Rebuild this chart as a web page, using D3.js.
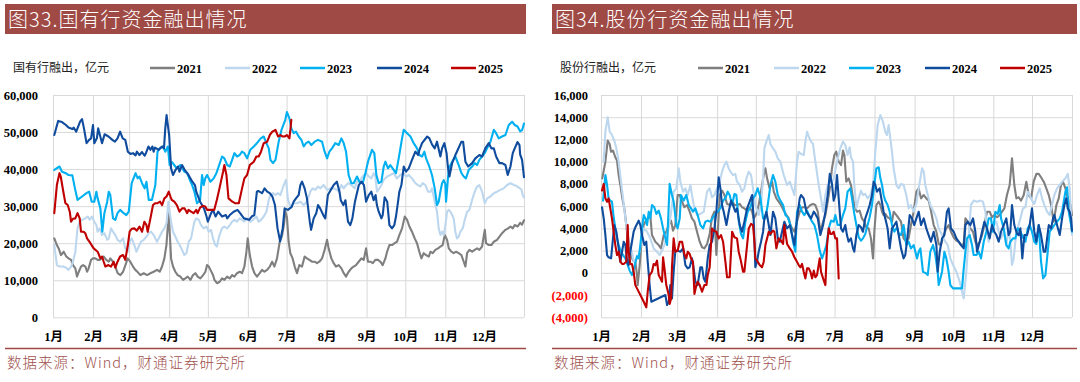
<!DOCTYPE html>
<html><head><meta charset="utf-8">
<script src="https://cdn.jsdelivr.net/npm/d3@7"></script>
<style>
html,body{margin:0;padding:0;background:#fff;}
svg{display:block;}
</style></head>
<body>
<svg id="chart" width="1080" height="382"></svg>
<script>
// ---------------- DATA ----------------
// each point: [day of year (0 = Jan 1), value in thousands of 亿元]
const UNIT = 1000;
const monthStartDays = [0,31,59,90,120,151,181,212,243,273,304,334,365];
const monthLabels = ["1月","2月","3月","4月","5月","6月","7月","8月","9月","10月","11月","12月",""];
const years = ["2021","2022","2023","2024","2025"];
const soeTicks = [0,10000,20000,30000,40000,50000,60000];
const jsbTicks = [-4000,-2000,0,2000,4000,6000,8000,10000,12000,14000,16000];
const titles = ["图33.国有行资金融出情况","图34.股份行资金融出情况"];
const unitLabels = ["国有行融出，亿元","股份行融出，亿元"];
const sourceText = "数据来源：Wind，财通证券研究所";

// 国有行 (state-owned banks)
const soe2021 = [[1,21.3],[3,19.5],[4.4,18.6],[6.2,16.8],[8.3,17.7],[10.3,16.4],[12.1,15.9],[14,15.5],[15.5,14.1],[17.3,13.2],[18.6,11.0],[20,12.3],[21.7,13.7],[23.3,14.1],[25.1,13.7],[26.4,12.3],[27.6,13.2],[29.5,15.5],[31,15.9],[32.8,15.9],[34.6,15.5],[36.2,15.5],[38,15.9],[39.3,16.4],[41.3,15.5],[43.2,15.0],[44.4,15.9],[46.5,15.0],[48.3,13.7],[50.1,11.9],[52.2,11.4],[54.3,12.3],[56.1,14.1],[57.9,15.9],[59.9,15.0],[62,13.7],[63.8,12.8],[65.6,12.2],[67.7,11.4],[70.3,11.9],[72.9,11.4],[75.5,11.9],[78,12.3],[80.6,12.8],[82.7,12.3],[84.5,13.7],[86.3,15.9],[87.9,19.5],[89.7,28.1],[91.5,15.9],[93,13.7],[94.8,12.3],[96.6,11.4],[98.7,11.0],[100.8,10.1],[102.6,10.5],[104.4,11.0],[106.5,10.1],[108.5,11.4],[110.3,11.9],[112.1,11.0],[114.2,10.5],[116.3,11.4],[118.1,12.3],[119.4,14.1],[120.7,13.7],[122,12.8],[124,11.4],[125.1,10.1],[127.1,9.2],[129.2,9.6],[131,10.5],[132.8,10.1],[134.9,11.0],[137,10.5],[138.8,11.4],[140.6,11.0],[142.6,11.9],[144.7,12.3],[146.5,11.9],[148.3,13.7],[149.9,17.7],[150.9,21.3],[152.5,16.8],[154.3,13.7],[156.1,11.9],[158.1,11.0],[160.2,11.9],[162,12.8],[163.8,12.3],[165.9,12.8],[168,13.7],[169.8,15.0],[171.6,13.7],[173.6,15.9],[175.7,20.4],[177.5,22],[179,25],[180,28.7],[181.3,27],[182.6,20.4],[183.9,17.3],[185.7,15.9],[187.3,13.7],[189.1,11.9],[190.9,14.1],[193,13.7],[195,16.4],[196.8,15.9],[198.7,15.5],[200.7,15.0],[202.8,15.0],[204.6,14.6],[206.4,15.0],[208.5,15.9],[210.5,18.2],[212.4,20.9],[213.6,18.6],[215.7,15.9],[217.5,14.6],[219.3,13.7],[221.4,14.1],[223.5,13.2],[225.3,11.9],[227.1,11.0],[229.1,12.3],[231.2,13.2],[233,13.7],[234.8,14.1],[236.9,15.0],[239,15.9],[240.8,15.5],[242.6,18.6],[244.1,15.0],[246,15.0],[247.8,14.6],[249.8,15.5],[251.9,15.5],[253.7,15.0],[255.5,14.1],[257.6,15.9],[258.9,17.7],[260.7,19.5],[262.7,19.5],[264.8,20.0],[266.6,20.4],[268.4,22.2],[270.5,24.0],[272.6,27.2],[274.4,26.3],[276.2,24.5],[278.2,23.1],[280.3,21.3],[282.1,20.0],[283.9,17.7],[285.5,15.9],[287.3,17.3],[289.1,16.8],[291.2,16.4],[292.5,17.7],[294.3,17.3],[296.3,18.2],[298.4,18.6],[300.2,19.1],[302,19.5],[303.6,22.2],[305.4,20.9],[306.7,18.6],[308.7,17.7],[310.5,17.3],[312.4,17.7],[314.4,17.3],[316.5,16.8],[318.3,15.0],[319.6,13.7],[320.9,17.3],[322.7,18.2],[324.8,17.7],[326.8,18.2],[328.6,18.6],[330.4,18.2],[332.5,19.1],[334.6,23.6],[335.6,20.0],[337.7,19.5],[339.7,19.5],[341.6,20.4],[344.1,20.9],[346,21.8],[348,22.7],[350.6,23.6],[352.7,24.0],[354.5,24.5],[356.3,24.0],[357.8,24.9],[360,24.5],[362,25.5],[363.5,25],[365,26.2]];
const soe2022 = [[1,19.5],[3,14.1],[5,13.7],[8,13.7],[10,13.4],[12,12.8],[14,13.7],[15.5,15.0],[17.3,17.7],[19,24.0],[20.7,25.8],[22.5,26.3],[25,26.7],[27,27.2],[28.4,26.3],[30.2,27.2],[32,25.8],[33.6,24.9],[34.6,23.1],[36.2,24.0],[38,22.2],[39.8,22.7],[42,20.9],[43.2,21.3],[45,24.0],[46.5,23.1],[48.3,22.2],[50,20.9],[52,20.4],[54.3,21.3],[56,18.6],[58,17.7],[59.4,20.4],[61,21.3],[63,19.5],[64.6,17.7],[66.4,19.1],[68.2,20.4],[70.3,20.9],[72.4,21.8],[74.2,22.7],[76,23.1],[78,22.2],[79.3,21.3],[80.6,20.4],[82.7,21.8],[84.5,23.1],[86.3,24.0],[88,25.4],[89.4,31.2],[90.4,28.5],[91.5,25.8],[93,23.1],[94.8,21.8],[96.6,20.4],[98.2,19.5],[100,18.2],[101.8,16.8],[103.4,17.3],[105.2,20.4],[107,21.3],[108.5,24.0],[109.6,25.8],[111,26.7],[113,26.3],[114.7,24.9],[116.8,24.0],[119,24.5],[120.7,23.1],[122.5,23.6],[124,21.3],[125.8,19.5],[127,19.1],[129,22.2],[131,24.0],[132.8,24.5],[135,24.0],[137,24.9],[138.8,25.8],[140.6,26.3],[142.6,25.8],[144.7,26.7],[146.5,26.3],[148.3,25.8],[150.4,26.7],[153,25.8],[155,26.3],[157.6,27.2],[159.4,25.8],[161.2,26.3],[163.3,27.2],[165.4,28.5],[167.2,31.7],[168.5,33.0],[170.5,33.5],[172.4,33.0],[174.2,33.5],[176.2,33.0],[178.8,35.7],[180.6,37.1],[182.1,31.7],[183.9,29.9],[186.5,30.8],[189.1,30.8],[191.7,31.2],[194.3,30.3],[196.8,31.2],[199.4,33.9],[201.2,34.8],[203.3,34.4],[205.4,35.3],[207.2,34.8],[209.8,35.7],[212.4,34.4],[214.9,34.8],[217.5,34.8],[220.1,34.4],[221.4,33.9],[223.5,35.7],[225.3,34.8],[227.1,35.7],[229.1,36.2],[231.2,35.7],[233.8,34.8],[235.6,36.6],[238.2,37.1],[240.8,38.4],[242.6,38.9],[244.7,38.0],[246.7,37.5],[248.5,38.9],[249.8,38.0],[251.1,33.9],[252.9,34.8],[254.5,35.7],[256.3,37.1],[258.9,38.0],[261.4,38.4],[264,38.9],[266.6,37.5],[269.2,38.4],[271.8,38.9],[273.6,38.0],[275.7,38.4],[278.2,37.5],[280.8,36.2],[282.9,35.7],[284.7,35.3],[286.5,36.2],[288.6,35.7],[290.6,33.9],[292.5,33.9],[293.7,34.8],[295.8,31.2],[297.6,28.5],[298.9,24.0],[300.2,22.2],[301.5,23.1],[302.8,22.2],[304.1,24.9],[305.4,28.5],[306.7,29.0],[308,28.5],[309.3,27.6],[310.5,26.7],[311.8,23.1],[313.1,21.3],[314.4,21.8],[315.7,23.1],[317.5,24.0],[319.1,26.3],[320.9,28.5],[322.7,29.0],[324.8,31.7],[326.8,33.9],[328.6,35.3],[330.4,35.7],[332.5,33.9],[334.6,30.8],[336.4,32.1],[339,32.6],[341.6,33.5],[344.1,33.9],[346.7,34.4],[349.3,34.8],[351.9,35.7],[354.5,36.2],[357.1,35.7],[359,35.5],[361,35],[363,34.5],[364,33],[365,32.3]];
const soe2023 = [[1,39.8],[5,40.7],[7,39.3],[10,38.9],[12,38.4],[15,38.3],[17,34.8],[19,31.7],[22.5,32.6],[26,33.5],[28,33.9],[30,31.2],[32,31.2],[33.6,33.9],[34.6,32.1],[36.7,29.4],[38.2,23.1],[39.8,28.1],[42,31.2],[43.2,33.9],[44.4,33.0],[46.5,26.7],[48.3,26.3],[50,28.1],[52,29.0],[54.8,28.1],[56.8,27.6],[58.7,28.5],[61,36.2],[64,38.9],[65.6,37.5],[67,38.0],[69,36.2],[71,34.8],[72.4,36.6],[74.2,31.7],[76.7,31.7],[79.3,35.7],[81,44.7],[82.7,45.6],[85.3,46.1],[87,44.7],[89,46.1],[90.4,41.1],[92.2,41.9],[94.8,40.7],[96,40.2],[98.7,41.1],[101.8,39.3],[104,38.9],[106,37.1],[107.8,35.7],[109.6,33.9],[111.6,30.8],[114,31.7],[115.5,38.4],[116.8,35.7],[118,37.5],[119.4,38.4],[122,36.6],[124.5,37.5],[126.6,38.9],[128.4,40.7],[131,43.4],[132.8,42.9],[135,41.1],[137,40.7],[138.8,42.5],[140.6,44.3],[142.6,43.4],[144.7,43.8],[146.5,44.7],[148.3,44.3],[150.4,42.9],[152.9,45.2],[155.6,46.1],[158,47.0],[161,48.3],[163.3,48.8],[165.4,47.0],[167.2,45.6],[168.5,42.5],[170.5,41.6],[172.4,42.5],[174.9,47.4],[177,50.5],[180,53.3],[181.3,55.4],[183.2,53.7],[184.7,51.0],[186.5,49.7],[188.3,50.1],[190.4,48.8],[192.5,47.9],[194.3,46.1],[196.1,47.0],[198.1,47.4],[200.2,46.5],[202.8,47.4],[205.4,47.9],[208.5,47.4],[210.5,44.7],[212.4,42.9],[214.2,44.7],[216.2,45.6],[218.8,47.0],[221.4,46.5],[223.5,48.3],[225.3,47.0],[227.1,44.7],[229.1,38.4],[231.2,36.2],[233,36.2],[235.6,38.0],[237.4,36.6],[240,36.2],[242.1,38.9],[244.1,42.0],[247.2,45.2],[249,44.3],[250.6,38.4],[252.4,36.2],[254.5,36.6],[256.3,40.7],[257.6,42.0],[259.6,40.2],[261.4,41.1],[264,39.8],[265.8,38.9],[267.9,42.9],[270.5,48.3],[271.8,50.6],[274.4,49.7],[277,48.8],[279.5,47.0],[282.1,45.6],[283.9,43.8],[286,43.4],[287.8,44.7],[289.1,42.9],[291.2,41.1],[293.7,38.4],[295.8,34.8],[297.6,30.3],[298.9,31.2],[300.2,33.9],[301.5,36.2],[302.8,37],[304,36],[304.6,31.2],[306.7,40.2],[309.3,42.0],[311.8,43.4],[314.4,41.1],[316.5,38.9],[318.3,38.0],[320,37.5],[322.2,39.8],[324.8,40.7],[326.8,41.6],[328.6,41.1],[330.4,42.5],[332.5,43.4],[334.6,44.3],[336.4,45.6],[339,47.4],[341.6,50.6],[343.4,49.7],[345.4,48.3],[348,48.8],[350.6,49.2],[353.2,51.9],[355.8,52.8],[357.8,51.9],[360,51.5],[362,50.2],[363.5,50.5],[365,52.3]];
const soe2024 = [[1,49.2],[4,53.0],[7,52.7],[10,51.9],[12,51.2],[15,50.8],[16,51.2],[18,50.1],[21,52.8],[22.5,53.5],[24,51.0],[26,47.0],[28,47.9],[29.5,48.3],[31,51.9],[32,47.0],[34,48.3],[35,51.0],[37,48.3],[38,47.0],[40,49.4],[43,48.8],[46,47.9],[48,47.4],[50,48.3],[52,50.1],[54,48.3],[56,47.9],[58,44.7],[60,44.1],[62,44.3],[64,43.7],[65,44.7],[67,43.8],[69,44.6],[71,43.6],[72,44.3],[74,46.1],[75.5,45.2],[77,46.1],[78,44.7],[79,45.8],[82,45.2],[84.5,46.1],[86,45.6],[87,51.0],[88,54.6],[89,51.9],[90,49.2],[91.5,40.2],[93,38.4],[95,39.8],[97,40.7],[98,39.3],[100,41.1],[102,39.8],[104,38.9],[105,38.4],[108,36.6],[110,35.7],[111,33.9],[114,31.2],[117,29.4],[119,27.2],[120,25.8],[122.5,28.1],[124,29.0],[126,27.2],[128,28.5],[131,27.2],[134,27.6],[135,26.7],[137,27.6],[140,28.5],[143,29.0],[145,28.1],[148,26.7],[152,26.3],[154,27.2],[156,27.6],[158,33.9],[159,34.1],[162,33.5],[164,34.8],[166,33.9],[168,33.5],[170,32.6],[172,30.3],[174,24.0],[176,20.5],[178,24],[179.5,29.4],[182,29.0],[185,29.8],[186.5,31.2],[188.3,32.1],[190.4,33],[191.7,35.7],[193,36.6],[195,34.8],[196.8,32.1],[199,25.8],[200,23.6],[202,26.7],[204,28.1],[205.4,30.3],[207,29.4],[210,27.2],[211,26.7],[213,33.0],[217.5,35.7],[220,36.6],[222,33.9],[223,31.6],[225,30.3],[226.6,31.6],[228.6,25.8],[230.4,24.9],[232,26.7],[234,31.2],[237,35.7],[239,36.6],[241,35.7],[242.6,31.2],[244.7,33],[246.7,33.9],[248.5,31.6],[250,33],[251,30.3],[252.4,28.5],[254.5,26.7],[255.5,27.6],[257,32.4],[259,31.2],[260.7,24.9],[262.7,24.0],[264.5,24.9],[265.8,27.2],[267.4,31.2],[268.4,33.9],[270,35.7],[271.8,40.7],[273.6,39.3],[275.7,40.2],[278.2,42.5],[280.8,44.7],[283,43.8],[284,45.2],[286,47.0],[290,48.8],[291.7,48.3],[293.8,46.6],[295.8,45.6],[297.6,47.4],[300.2,43.4],[301.5,45.6],[303.3,47.0],[305,44.3],[306,40.7],[307.2,38.0],[309.3,41.6],[311.8,43.8],[313,44.7],[316.5,47.4],[317.8,47.4],[319.6,42.0],[321.7,40.7],[324.8,41.6],[327.3,42.9],[330.4,43.8],[332.5,43.4],[335,45.6],[337.7,47.0],[339.7,45.6],[341.6,45.6],[343.4,43.4],[346,41.6],[348,41.6],[350.6,41.1],[352.4,38.4],[354.5,40.7],[356.3,44.3],[357.8,45.6],[360,47.3],[361.5,46.5],[362,44],[363.5,42.5],[365,37.8]];
const soe2025 = [[1,28.1],[3,35.7],[5,38.9],[6,38.0],[8,33.9],[9.6,30.8],[11.4,30.3],[13,28.5],[14,25.8],[15.5,26.6],[17.3,26.7],[19,28.1],[20.7,26.7],[21.7,23.1],[23.8,23.1],[25,22.7],[26.4,21.3],[29,20.0],[31.5,18.6],[34.6,17.7],[36.7,15.9],[38,16.4],[39.3,15.0],[40.6,13.7],[43,14.1],[45,13.7],[47,15.0],[48.3,13.4],[50,15.0],[52,16.4],[54.3,16.8],[56,15.5],[58,19.5],[59.4,23.1],[61,23.9],[63,24.0],[65,23.4],[67,24.5],[69,23.1],[70.8,25.8],[72.4,24.9],[73.4,23.1],[75.5,26.7],[77.5,30.3],[79.3,30.8],[81,30.8],[83,31.2],[84.5,30.3],[86.3,32.1],[88,32.6],[89.7,33.9],[91,32.6],[92,31.7],[94,31.2],[96,30.3],[98,28.5],[100,29.4],[102,29.4],[104,28.1],[105,29.0],[107,28.5],[109,28.1],[111,29.0],[112,28.1],[114,29.6],[116,30.1],[118,29.9],[119.4,29.0],[121,29.0],[123,29.0],[125,29.0],[127,31.7],[129,34.8],[131.8,39.3],[132.8,41.1],[134.4,38.4],[136,32.1],[139,31.2],[141,30.8],[144,30.8],[146.5,34.8],[148.3,37.5],[150.4,38.4],[152.5,41.1],[154.3,41.6],[155.6,42.0],[157.6,43.4],[159.4,43.4],[161.2,44.7],[163.3,47.0],[166,47.4],[168,49.2],[170,50.1],[172.4,50.6],[174.4,48.8],[176.2,49.2],[178,48.8],[179.5,48.8],[181.3,49.2],[183.2,48.3],[184,50.8],[184.7,53.3]];

// 股份行 (joint-stock banks)
const jsb2021 = [[1,8.5],[3.4,10.0],[5.2,11.9],[6.7,11.6],[7.8,10.9],[9.3,11.0],[11.1,10.4],[12.4,10.1],[13.7,8.8],[15,7.9],[16.5,6.7],[18.1,5.8],[19.6,4.3],[20.7,3.1],[22.2,2.5],[23.3,1.6],[24.8,1.1],[26.6,1.0],[27.9,-0.2],[28.4,-1.1],[30,0.7],[31,2.2],[32,3.7],[33.1,4.3],[34.4,4.6],[36.2,4.9],[38.2,5.2],[39.5,3.4],[42.1,2.8],[44.7,2.5],[46.5,2.2],[48.6,3.4],[50.6,3.7],[52.5,4.3],[54.3,4.7],[55.8,3.8],[57.6,4.3],[59.4,7.0],[61,7.0],[62.8,6.4],[64.6,5.9],[66.7,6.1],[68.7,5.5],[70.5,4.9],[72.4,4.6],[74.4,3.7],[76.5,2.8],[78.3,2.3],[80.1,2.2],[82.2,2.6],[84.2,3.5],[86,5.0],[87.9,5.5],[89.4,1.6],[90.7,4.0],[92,7.0],[93.8,7.4],[95.6,7.0],[97.7,6.2],[99.7,6.1],[101.6,6.5],[103.4,6.1],[105.4,6.1],[107.5,6.2],[109.3,5.9],[111.1,5.8],[113.2,5.6],[115.2,5.9],[117.1,5.5],[118.3,4.9],[120.4,5.3],[122.2,6.1],[124,7.3],[126.1,8.8],[127.4,9.4],[128.7,8.5],[130.7,7.6],[132.6,8.2],[133.9,7.3],[135.9,6.7],[137.7,6.4],[139.5,6.1],[141.6,5.6],[143.7,5.2],[145.5,4.9],[146.8,4.3],[148.1,4.0],[149.9,3.7],[151.9,4.6],[154,5.5],[155.8,5.9],[157.6,5.9],[159.7,5.8],[162.3,6.1],[164.3,6.2],[166.1,6.1],[168,5.5],[170,3.7],[172.1,4.6],[173.9,5.2],[175.7,6.4],[177.3,7.6],[179,9.4],[180.8,10.6],[182.3,10.9],[184.2,10.0],[186,9.7],[187.5,11.0],[188.6,10.6],[190.1,8.2],[191.9,8.5],[193.7,7.9],[195.3,6.7],[197.1,5.8],[198.4,5.5],[200.4,5.6],[202.2,4.9],[204,4.6],[205.6,4.1],[207.4,4.0],[209.2,3.1],[210.8,1.3],[211.8,3.7],[213.4,6.1],[215.2,6.4],[216.5,6.1],[217.8,5.5],[219,5.2],[220.3,5.3],[222.1,5.0],[223.7,4.9],[225.5,4.6],[226.8,5.5],[228.9,5.2],[230.7,4.9],[232.5,4.6],[234.5,3.1],[236.6,2.8],[238.4,3.1],[240.2,4.3],[242.3,5.5],[244.4,7.3],[246.2,7.6],[248,6.7],[250.1,7.0],[252.1,6.7],[253.9,6.5],[255.2,5.9],[257.8,4.3],[259.9,3.7],[261.7,2.6],[263.5,2.5],[265.6,3.4],[267.6,4.0],[269.4,4.3],[271.2,3.7],[273.3,3.2],[275.4,2.9],[277.2,2.8],[279,2.5],[281.1,2.6],[282.4,4.9],[284.2,4.6],[286.2,4.0],[288.3,3.7],[290.1,2.8],[291.4,2.5],[293.5,2.8],[295.3,3.4],[297.1,4.3],[299.1,5.5],[301.2,5.5],[303,5.0],[304.8,5.2],[306.9,5.0],[309,5.2],[310.8,5.5],[312.6,5.8],[314.6,7.0],[316.7,7.9],[318.5,10.3],[320.3,7.9],[321.9,6.7],[323.7,6.8],[325.5,6.5],[327.6,7.0],[329.6,8.2],[331.4,7.0],[333.3,6.7],[335.3,8.2],[337.4,8.9],[339.2,8.9],[341,8.6],[343.1,8.2],[345.1,7.6],[347,7.0],[348.8,6.1],[350.8,4.6],[352.9,6.1],[354.7,6.7],[356.5,7.9],[358,8.2],[359.9,7.6],[361.7,6.7],[363.8,6.1],[365,5.2]];
const jsb2022 = [[2,10.0],[3.4,12.7],[5.2,14.0],[6.7,12.7],[8.5,12.4],[10.3,11.9],[11.9,11.2],[13.7,10.0],[15.5,8.2],[17.1,6.7],[18.9,4.9],[20.7,3.4],[22.2,2.5],[24,1.9],[25.3,1.0],[27.9,1.3],[30,1.9],[31.8,3.4],[33.1,4.0],[35.7,3.7],[38.2,3.1],[40.8,2.2],[43.4,1.9],[45.5,1.6],[47.3,2.0],[49.1,2.5],[51.2,3.4],[53.7,4.9],[56.3,7.3],[58.4,7.6],[60.2,9.4],[61.5,8.2],[63.6,7.3],[65.4,7.6],[67.2,7.0],[69.3,7.9],[70.5,7.0],[72.4,5.8],[74.4,5.2],[77,5.3],[79.6,5.5],[82.2,7.3],[84.2,7.6],[86,6.8],[87.9,7.0],[89.9,7.6],[92,8.2],[93.8,9.1],[95.6,9.7],[97.2,10.0],[99,9.4],[100.3,9.1],[102.3,8.8],[104.1,8.9],[105.4,8.2],[107.5,7.9],[109.3,7.3],[111.1,7.6],[112.7,8.5],[114.5,9.1],[116.3,8.8],[117.8,7.6],[119.6,6.1],[122.2,5.2],[124,6.1],[125.6,8.5],[126.6,11.2],[128.2,11.8],[130,12.4],[131.3,11.6],[133.3,11.2],[135.1,10.9],[137,10.3],[139,10.0],[141.6,8.8],[144.2,7.9],[146.3,8.2],[148.1,7.6],[149.9,7.0],[151.9,10.0],[153.2,10.9],[155,10.7],[157.1,10.6],[158.4,11.8],[159.7,12.7],[161.2,12.2],[162.8,11.8],[164.3,11.6],[165.4,10.6],[166.9,9.4],[168.7,7.9],[170.5,6.7],[172.1,5.5],[173.9,7.0],[175.7,7.9],[177.7,7.9],[180.3,8.5],[182.9,10.0],[185.5,11.2],[187.5,11.8],[189.3,11.5],[191.1,10.6],[192.7,11.3],[193.7,10.4],[195.3,10.0],[196.3,7.9],[197.9,5.8],[199.7,6.7],[201.5,7.4],[203,7.0],[204.8,7.1],[206.6,6.7],[208.7,7.0],[210.8,7.9],[212.6,10.9],[214.4,13.3],[216.5,14.2],[218.5,13.6],[220.3,12.7],[221.6,12.4],[222.9,13.3],[224.2,12.1],[225.5,10.9],[226.8,9.4],[228.9,7.9],[230.7,7.6],[232.5,8.0],[234.5,7.9],[236.6,7.0],[238.4,5.8],[240.2,6.1],[242.3,5.5],[244.4,6.2],[246.2,7.6],[247.5,8.5],[248.8,9.4],[250.1,9.1],[251.3,7.9],[253.2,7.0],[255.2,6.1],[257.8,5.5],[259.9,4.9],[261.7,4.0],[264.3,3.4],[266.8,2.8],[268.7,2.5],[270.7,1.3],[272.8,0.7],[275.4,0.1],[278,-0.8],[279.8,-1.7],[281.1,-2.3],[283.1,0.1],[285,3.4],[286.7,6.1],[288.8,6.5],[291.4,6.4],[294,6.5],[296,6.4],[297.9,5.5],[299.1,3.7],[300.4,2.8],[302.2,4.0],[304.3,4.3],[306.4,4.6],[308.2,3.7],[310,3.1],[312.1,3.7],[314.1,2.5],[315.9,4.0],[317.2,2.8],[318.5,0.7],[319.8,1.3],[321.1,2.8],[322.9,4.0],[325,4.9],[327,5.8],[328.9,5.9],[330.7,7.3],[332.2,7.0],[334,6.5],[335.8,6.2],[337.9,7.0],[340,7.6],[341.8,6.7],[343.6,6.1],[345.7,5.5],[347.7,5.2],[349.5,6.1],[351.3,7.0],[353.4,7.6],[355.5,7.9],[357.3,8.2],[359.9,8.5],[361.7,8.9],[363.2,7.6],[364.3,5.2],[365,3.4]];
const jsb2023 = [[1.6,6.5],[3.4,8.8],[4.7,7.9],[5.9,6.7],[7.2,6.5],[8.5,6.4],[9.8,5.0],[11.1,4.0],[12.4,3.1],[13.7,2.5],[15.5,1.9],[17.1,1.6],[18.9,1.3],[20.7,0.7],[22.2,0.2],[24,-0.2],[25.8,0.5],[27.9,1.5],[29.2,1.3],[30.5,2.5],[31.8,4.0],[33.1,5.2],[34.4,4.9],[35.7,4.3],[37,5.5],[38.2,4.9],[39.5,6.1],[41.3,5.9],[42.9,5.3],[44.7,5.6],[46.5,4.9],[48.1,4.0],[49.9,3.1],[51.2,2.5],[53.2,8.0],[55,7.0],[56.3,6.4],[58.4,4.3],[59.4,4.0],[61,4.9],[62,7.0],[64.1,6.5],[66.1,7.0],[68,6.1],[69.8,5.8],[71.3,5.5],[73.1,5.8],[74.9,5.2],[77,4.3],[79.1,4.0],[80.9,4.6],[82.7,4.7],[84.8,4.6],[86.8,5.0],[88.6,5.3],[90.4,5.5],[92.5,5.8],[94.6,6.5],[96.4,6.7],[98.2,7.3],[99.7,7.0],[101.6,6.1],[103.4,7.1],[104.9,7.0],[106.7,4.7],[108.5,3.5],[110.1,3.1],[111.9,4.6],[113.7,5.5],[115.8,5.9],[117.8,6.7],[119.6,7.0],[121.4,7.6],[123.5,6.8],[125.6,4.9],[127.4,4.9],[129.2,6.1],[131.3,7.9],[133.3,8.8],[135.1,8.2],[137,7.0],[139,6.5],[141.1,6.1],[142.9,5.2],[144.7,5.0],[146.8,4.3],[148.8,2.8],[150.6,1.9],[151.9,5.5],[154,6.1],[155.8,5.5],[157.6,5.2],[159.7,5.6],[161.8,5.0],[163.6,4.6],[165.4,4.3],[167.4,3.4],[169.5,2.0],[171.3,1.3],[173.1,1.9],[174.7,2.5],[176.5,4.0],[178.3,4.7],[180.4,4.6],[181.6,5.2],[183.4,4.3],[185.5,4.3],[187.5,5.2],[189.3,5.8],[191.1,7.3],[193.2,7.6],[194.5,6.7],[196.3,5.3],[197.9,4.3],[199.7,3.2],[201.5,2.9],[203,3.1],[204.8,3.5],[206.6,4.3],[208.2,5.0],[210,6.1],[211.8,7.9],[213.4,9.4],[215.2,9.5],[216.5,8.5],[217.8,7.9],[219,7.0],[220.3,6.5],[222.1,6.1],[223.7,5.5],[225.5,4.3],[227.3,3.7],[229.4,4.1],[230.7,3.5],[232.5,3.4],[234.5,4.3],[236.6,2.5],[238.4,2.8],[240.2,2.2],[242.3,2.5],[243.6,1.9],[244.9,1.3],[246.2,1.9],[247.5,2.2],[249.5,0.1],[251.3,0.0],[253.2,-0.2],[255.2,1.9],[257.3,2.5],[259.1,1.6],[260.9,0.1],[261.7,-1.1],[263,-0.5],[264.3,0.1],[266.1,1.9],[267.6,1.3],[269.4,0.1],[270.7,-1.1],[272.8,-1.4],[275.4,-1.4],[278,-1.4],[279.8,-1.4],[281.1,0.4],[282.4,1.9],[283.6,3.1],[285.7,3.4],[287.5,2.5],[288.8,1.6],[290.9,1.6],[292.7,1.9],[294.5,1.3],[296.6,2.8],[298.6,3.7],[300.4,4.9],[302.2,4.9],[303.8,3.7],[305.6,5.5],[307.4,5.3],[309,6.1],[310,4.9],[312.1,4.0],[314.1,2.5],[315.9,2.2],[317.2,2.8],[319.3,3.1],[321.1,3.1],[322.9,4.0],[325,3.7],[327,3.2],[328.9,2.8],[330.7,4.0],[332.2,4.3],[334,3.7],[335.8,2.8],[337.4,2.6],[339.2,4.3],[341,1.0],[342.6,-0.5],[344.4,-0.2],[346.2,1.9],[347.7,3.7],[349.5,4.0],[351.3,4.3],[353.4,4.6],[355.5,4.9],[357.3,5.5],[358.6,6.4],[359.9,7.3],[361.2,7.7],[362.5,5.5],[364.3,4.3],[365,3.7]];
const jsb2024 = [[0.8,5.9],[2.1,4.9],[3.4,3.4],[4.7,1.6],[5.9,1.4],[7.8,1.3],[9.3,3.1],[10.3,4.3],[11.9,3.7],[13.7,2.2],[15,1.0],[16.3,1.9],[17.6,2.8],[18.9,2.5],[20.2,1.0],[21.4,0.7],[22.7,1.9],[24,2.8],[25.3,3.7],[26.6,4.1],[27.9,4.4],[29.2,4.7],[30.5,4.3],[31.8,3.4],[33.6,2.5],[35.1,2.8],[36.2,1.0],[37.7,-1.1],[39,-2.6],[49.9,-2.0],[51.2,-2.9],[52.5,-2.6],[53.7,-1.1],[55,-2.3],[56.3,0.1],[57.6,2.0],[59.4,2.0],[61.5,1.9],[63.6,2.2],[65.4,0.7],[67.2,0.4],[68.7,0.5],[70.5,1.3],[71.8,0.4],[73.1,-0.8],[74.9,-1.1],[77,0.5],[78.3,0.5],[79.6,-0.5],[80.9,-0.8],[82.7,1.3],[84.2,2.5],[86,2.8],[87.9,4.0],[89.4,5.5],[91.2,8.6],[92.5,7.6],[93.8,6.1],[95.1,5.5],[97.2,4.3],[99,5.5],[100.8,6.5],[102.3,6.1],[104.1,5.5],[105.4,5.8],[107.5,4.3],[109.3,3.7],[111.1,4.6],[113.2,5.8],[115.2,6.4],[117.1,7.0],[118.3,4.9],[119.6,0.5],[120.9,1.0],[122.2,1.9],[124,2.8],[125.6,3.7],[126.6,4.9],[128.2,5.5],[130,4.3],[131.3,3.4],[133.3,5.5],[135.1,4.9],[137,3.1],[138.5,2.8],[140.3,3.7],[142.1,4.6],[144.2,4.0],[146.3,4.3],[148.1,3.4],[149.9,2.5],[151.9,4.9],[154,6.7],[155,7.0],[157.1,6.7],[159.2,5.5],[161,5.2],[162.8,4.9],[164.9,5.5],[166.1,5.3],[168,4.9],[170,3.4],[172.1,4.3],[173.9,5.5],[175.7,7.0],[177.3,8.9],[179,8.0],[180.3,6.5],[181.6,7.0],[182.9,8.8],[184.2,6.7],[186,4.0],[187.5,3.7],[189.3,4.3],[190.6,3.4],[191.9,2.8],[193.7,3.1],[195.3,2.2],[196.3,1.9],[197.9,3.4],[199.7,4.3],[201.5,4.1],[203,3.7],[204.8,4.9],[206.6,5.5],[208.2,6.1],[210,7.0],[211.3,8.2],[212.6,7.9],[213.9,7.3],[215.9,7.6],[217.7,6.4],[219,5.5],[220.3,4.9],[222.1,4.0],[223.7,2.2],[225.5,4.0],[227.3,4.3],[228.9,4.6],[230.7,3.4],[232.5,2.2],[234.5,1.3],[235.8,1.6],[237.1,2.8],[239.2,5.2],[241,4.9],[242.8,4.3],[244.4,4.9],[246.2,5.5],[248,4.3],[250.1,4.9],[252.1,4.0],[253.9,3.4],[255.7,2.8],[257.8,3.7],[259.9,2.5],[260.9,0.1],[262.5,1.9],[264.3,3.1],[266.1,3.4],[268.1,5.5],[269.4,5.8],[271.2,4.0],[273.3,3.7],[275.4,3.1],[277.2,2.8],[279,2.5],[281.1,2.2],[282.4,4.3],[284.2,4.6],[286.2,4.3],[288.3,4.9],[290.1,3.7],[291.4,1.9],[293.5,2.8],[295.3,3.7],[297.1,4.6],[299.1,4.0],[301.2,3.1],[303,4.3],[304.8,3.7],[306.4,3.4],[308.2,2.8],[310,3.7],[312.1,4.3],[314.1,4.9],[315.9,3.4],[317.2,3.7],[318.5,6.1],[320.3,4.3],[322.4,3.5],[323.7,3.4],[325,4.0],[326.5,1.3],[328.1,3.4],[330.2,3.4],[332.2,4.3],[334,5.8],[335.8,3.7],[337.4,2.8],[339.2,4.3],[341,3.4],[343.1,1.9],[344.4,1.9],[345.7,3.1],[347,4.3],[348.8,4.0],[350.3,4.9],[351.3,5.2],[353.4,4.3],[355.5,3.4],[357.3,4.9],[359.1,6.1],[360.6,6.7],[361.7,5.8],[363.2,5.5],[364.3,4.9],[365,3.8]];
const jsb2025 = [[0.8,7.4],[2.1,8.0],[3.4,6.7],[4.7,6.4],[5.9,6.7],[7.2,5.8],[8.5,4.9],[9.8,3.7],[11.1,2.5],[12.4,1.6],[13.7,1.9],[15,1.0],[16.3,0.8],[17.6,0.8],[19.6,1.0],[20.7,4.3],[21.4,1.9],[22.7,0.8],[24,0.8],[25.3,0.1],[26.6,-1.1],[27.9,-1.4],[30.5,-2.0],[33.1,-2.6],[35.1,-3.1],[36.2,-1.7],[37.7,-0.2],[39.5,0.1],[40.8,0.8],[42.1,0.7],[43.4,1.1],[44.7,-0.2],[46,-0.5],[47.3,-0.8],[48.1,1.4],[49.1,0.5],[50.6,-1.1],[52.5,-2.0],[53.2,-2.8],[54.3,-2.3],[55,0.5],[56.3,3.1],[57.6,1.9],[59.4,2.0],[61,2.8],[62.8,2.8],[64.6,1.7],[66.1,1.3],[67.2,1.9],[68.7,1.7],[69.8,1.3],[71.3,1.0],[72.4,-1.9],[73.9,-1.1],[74.9,-0.8],[76.5,-1.1],[78.3,-1.7],[80.1,-1.1],[81.7,-1.1],[82.7,-0.2],[84.2,0.5],[86,4.0],[87.3,3.8],[89.4,3.7],[91.2,3.1],[93,3.4],[94.6,2.8],[96.4,1.0],[97.7,-0.4],[99.7,-0.4],[101.6,3.7],[103.4,3.2],[105.4,3.1],[106.7,1.9],[108,1.3],[110.1,0.1],[111.1,0.1],[112.7,1.9],[114.5,4.0],[116.3,4.4],[117.8,4.3],[118.9,2.8],[119.6,1.3],[120.9,1.1],[123,0.7],[124.8,0.5],[126.1,1.0],[127.4,2.5],[128.7,3.1],[130,3.7],[131.3,3.5],[133.3,3.8],[134.4,3.7],[135.9,2.2],[137.7,3.1],[139.5,2.9],[141.1,2.6],[142.1,4.3],[144.2,2.6],[146.3,2.2],[148.1,1.9],[149.9,1.4],[151.4,1.1],[153.2,0.7],[154.5,0.5],[155.8,0.8],[157.1,0.1],[158.4,-0.5],[159.7,0.4],[161,0.4],[162.3,0.1],[163.6,-0.5],[164.9,0.2],[166.1,-0.4],[167.4,-0.2],[169.5,1.3],[170.5,0.1],[172.1,-0.5],[173.9,-1.1],[175.2,2.5],[176.5,4.0],[177.8,3.5],[179,3.5],[180.3,3.7],[181.6,3.1],[182.9,3.1],[184.2,-0.5]];

// ---------------- STYLE ----------------
const seriesColors = {"2021":"#7F7F7F","2022":"#BDD7EE","2023":"#00B0F0","2024":"#0F4C9E","2025":"#C00000"};
const BAR = "#9F4A45";
const SERIF = "'Liberation Serif','Times New Roman','Noto Sans CJK SC',serif";
const CJK = "'Noto Sans CJK SC','Noto Sans CJK JP',sans-serif";

const svg = d3.select("#chart");

const panels = [
  {title: titles[0], unit: unitLabels[0], series: [soe2021,soe2022,soe2023,soe2024,soe2025],
   ticks: soeTicks, yDomain: [0,60000], xRange: [53,524], bar: [5,526], legendX: [150,225,300,377,451], unitX: 13, labelX: 38},
  {title: titles[1], unit: unitLabels[1], series: [jsb2021,jsb2022,jsb2023,jsb2024,jsb2025],
   ticks: jsbTicks, yDomain: [-4000,16000], xRange: [601,1072], bar: [552,1077], legendX: [698,774,849,925,1000], unitX: 560, labelX: 588}
];

const TOP = 95, BOTTOM = 317.3;
const fmt = d3.format(",");

panels.forEach(p => {
  const g = svg.append("g");
  // title bar
  g.append("rect").attr("x", p.bar[0]).attr("y", 4).attr("width", p.bar[1]-p.bar[0]).attr("height", 30).attr("fill", BAR);
  g.append("text").attr("x", p.bar[0]+3).attr("y", 26.5).attr("fill", "#fff")
    .style("font-family", CJK).style("font-size", "20px").style("font-weight", 300).style("letter-spacing", "1px")
    .text(p.title);

  const x = d3.scaleLinear().domain([0,365]).range(p.xRange);
  const y = d3.scaleLinear().domain(p.yDomain).range([BOTTOM, TOP]);

  // y axis with horizontal gridlines
  const yAxis = d3.axisLeft(y).tickValues(p.ticks).tickSize(-(p.xRange[1]-p.xRange[0])).tickPadding(p.xRange[0]-p.labelX)
    .tickFormat(d => d < 0 ? "(" + fmt(-d) + ")" : fmt(d));
  const ya = g.append("g").attr("transform", `translate(${p.xRange[0]},0)`).call(yAxis);
  ya.select(".domain").remove();
  ya.selectAll(".tick line").attr("stroke", "#D9D9D9").attr("stroke-width", 1);
  ya.selectAll(".tick text").attr("fill", d => d < 0 ? "#FF0000" : "#000")
    .style("font-family", SERIF).style("font-weight", "bold").style("font-size", "12.5px");

  // x axis with vertical gridlines
  const xAxis = d3.axisBottom(x).tickValues(monthStartDays).tickSize(-(BOTTOM-TOP)).tickPadding(15)
    .tickFormat((d,i) => monthLabels[i]);
  const xa = g.append("g").attr("transform", `translate(0,${BOTTOM})`).call(xAxis);
  xa.select(".domain").remove();
  xa.selectAll(".tick line").attr("stroke", "#D9D9D9").attr("stroke-width", 1);
  xa.selectAll(".tick text").attr("fill", "#000")
    .style("font-family", SERIF).style("font-weight", "bold").style("font-size", "12.5px");

  // lines
  const line = d3.line().x(d => x(d[0])).y(d => y(d[1]*UNIT)).curve(d3.curveLinear);
  p.series.forEach((s, i) => {
    g.append("path").datum(s).attr("d", line).attr("fill", "none")
      .attr("stroke", seriesColors[years[i]]).attr("stroke-width", 2.1)
      .attr("stroke-linejoin", "round").attr("stroke-linecap", "round");
  });

  // legend
  g.append("text").attr("x", p.unitX).attr("y", 72).attr("fill", "#222")
    .style("font-family", CJK).style("font-size", "12px").text(p.unit);
  years.forEach((yr, i) => {
    const lx = p.legendX[i];
    g.append("line").attr("x1", lx).attr("x2", lx+25).attr("y1", 68).attr("y2", 68)
      .attr("stroke", seriesColors[yr]).attr("stroke-width", 2.5);
    g.append("text").attr("x", lx+27).attr("y", 72.5).attr("fill", "#000")
      .style("font-family", SERIF).style("font-weight", "bold").style("font-size", "12.5px").text(yr);
  });

  // bottom rule + source
  g.append("line").attr("x1", p.bar[0]).attr("x2", p.bar[1]).attr("y1", 348.5).attr("y2", 348.5)
    .attr("stroke", BAR).attr("stroke-width", 1.5);
  g.append("text").attr("x", p.bar[0]+2).attr("y", 367.5).attr("fill", "#A0504B")
    .style("font-family", CJK).style("font-size", "14.5px").style("font-weight", 300).style("letter-spacing", "1px")
    .text(sourceText);
});
</script>
</body></html>
